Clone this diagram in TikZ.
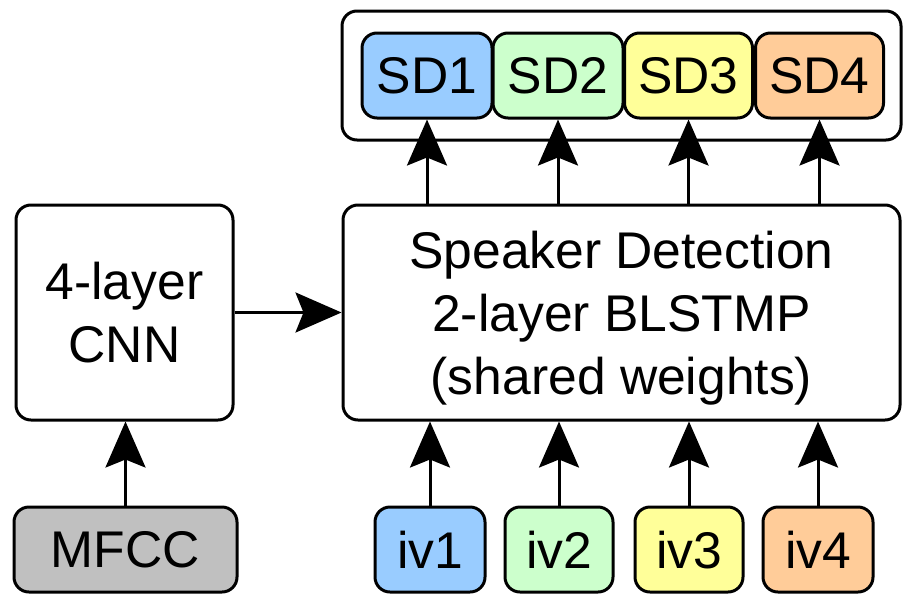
\documentclass[tikz,border=0pt]{standalone}
\usepackage{fontspec}
\setmainfont{Liberation Sans}
\usetikzlibrary{arrows.meta}
\definecolor{sdblue}{HTML}{99CCFF}
\definecolor{sdgreen}{HTML}{CCFFCC}
\definecolor{sdyellow}{HTML}{FFFF99}
\definecolor{sdorange}{HTML}{FFCC99}
\definecolor{mfccgray}{HTML}{C0C0C0}
\tikzset{>={Stealth[length=23pt,width=20pt,inset=4pt]}}
\tikzset{
  blk/.style={draw,line width=1.5pt,rounded corners=7.5pt,align=center,inner sep=0pt,text depth=0pt},
  tag/.style={blk,minimum height=42.5pt},
  flow/.style={->,line width=1.5pt},
}

\begin{document}
\begin{tikzpicture}[x=0.5pt,y=-0.5pt,font=\fontsize{25.8}{31.5}\selectfont]
    \useasboundingbox (0,0) rectangle (903,594);
    % speaker detection outputs
    \node[blk,minimum width=279.5pt,minimum height=64.5pt] (outs) at (621.5,75.5) {};
    \node[tag,fill=sdblue,minimum width=65pt]   (sd1) at (427,75.5)   {SD1};
    \node[tag,fill=sdgreen,minimum width=65pt]  (sd2) at (558,75.5)   {SD2};
    \node[tag,fill=sdyellow,minimum width=64pt] (sd3) at (688.5,75.5) {SD3};
    \node[tag,fill=sdorange,minimum width=64pt] (sd4) at (819.5,75.5) {SD4};
    % middle row
    \node[blk,minimum width=278.5pt,minimum height=107.5pt] (blstmp) at (621.5,312.5)
        {Speaker Detection\\2-layer BLSTMP\\(shared weights)};
    \node[blk,minimum width=108.5pt,minimum height=107.5pt] (cnn) at (124.5,312.5) {4-layer\\CNN};
    % inputs
    \node[tag,fill=mfccgray,minimum width=111.5pt] (mfcc) at (125.5,549.5) {MFCC};
    \node[tag,fill=sdblue,minimum width=55pt]   (iv1) at (430,549.5) {iv1};
    \node[tag,fill=sdgreen,minimum width=54pt]  (iv2) at (559,549.5) {iv2};
    \node[tag,fill=sdyellow,minimum width=54pt] (iv3) at (689,549.5) {iv3};
    \node[tag,fill=sdorange,minimum width=55pt] (iv4) at (818,549.5) {iv4};

    \draw[flow] (mfcc) -- (mfcc |- cnn.south);
    \draw[flow] (cnn) -- (blstmp);
    \foreach \k in {1,...,4} {
      \draw[flow] (iv\k) -- (iv\k |- blstmp.south);
      \draw[flow] (blstmp.north -| sd\k) -- (sd\k);
    }
\end{tikzpicture}
\end{document}
